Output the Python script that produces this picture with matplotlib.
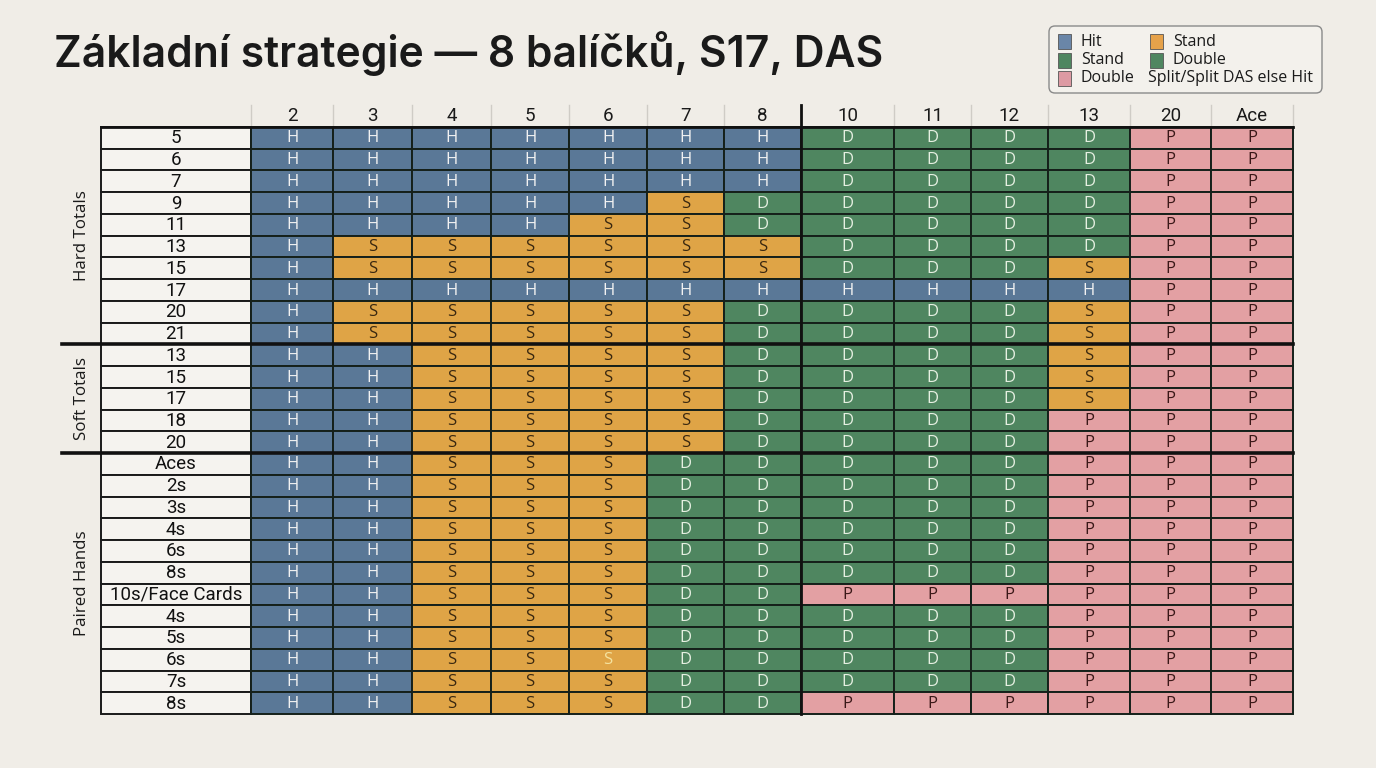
import matplotlib.pyplot as plt
from matplotlib.patches import Rectangle, FancyBboxPatch

# --- data ---------------------------------------------------------------
dealer_cards = ['2', '3', '4', '5', '6', '7', '8', '10', '11', '12', '13', '20', 'Ace']

hard_labels = ['5', '6', '7', '9', '11', '13', '15', '17', '20', '21']
hard_moves = [
    'HHHHHHHDDDDPP',
    'HHHHHHHDDDDPP',
    'HHHHHHHDDDDPP',
    'HHHHHSDDDDDPP',
    'HHHHSSDDDDDPP',
    'HSSSSSSDDDDPP',
    'HSSSSSSDDDSPP',
    'HHHHHHHHHHHPP',
    'HSSSSSDDDDSPP',
    'HSSSSSDDDDSPP',
]

soft_labels = ['13', '15', '17', '18', '20']
soft_moves = [
    'HHSSSSDDDDSPP',
    'HHSSSSDDDDSPP',
    'HHSSSSDDDDSPP',
    'HHSSSSDDDDPPP',
    'HHSSSSDDDDPPP',
]

pair_labels = ['Aces', '2s', '3s', '4s', '6s', '8s', '10s/Face Cards',
               '4s', '5s', '6s', '7s', '8s']
pair_moves = [
    'HHSSSDDDDDPPP',
    'HHSSSDDDDDPPP',
    'HHSSSDDDDDPPP',
    'HHSSSDDDDDPPP',
    'HHSSSDDDDDPPP',
    'HHSSSDDDDDPPP',
    'HHSSSDDPPPPPP',
    'HHSSSDDDDDPPP',
    'HHSSSDDDDDPPP',
    'HHSSSDDDDDPPP',
    'HHSSSDDDDDPPP',
    'HHSSSDDPPPPPP',
]

sections = [('Hard Totals', hard_labels, hard_moves),
            ('Soft Totals', soft_labels, soft_moves),
            ('Paired Hands', pair_labels, pair_moves)]

legend_labels = ['Hit', 'Stand', 'Double', 'Stand', 'Double', 'Split/Split DAS else Hit']
legend_keys = ['H', 'D', 'P', 'S', 'D', None]

# --- style --------------------------------------------------------------
bg = '#f0ede7'
cell_fill = {'H': '#5a7897', 'S': '#dfa446', 'D': '#4f8660', 'P': '#e3a0a3'}
text_col = {'H': '#f2f2f2', 'S': '#3a2810', 'D': '#e6f0e2', 'P': '#3a1818'}
legend_fill = {'H': '#6a86a8', 'S': '#e6a24a', 'D': '#4f8660', 'P': '#dd9aa3'}
odd_text = {(24, 4): '#f5e3a0'}  # one light "S" in the 6s row

col_widths = [82, 79, 79, 78, 78, 77, 77, 93, 77, 77, 82, 81, 82]
grid_left, grid_top, grid_bottom = 251, 127, 714
label_left = 101
n_rows = sum(len(s[1]) for s in sections)
row_h = (grid_bottom - grid_top) / n_rows

col_edges = [grid_left]
for w in col_widths:
    col_edges.append(col_edges[-1] + w)
grid_right = col_edges[-1]

fig = plt.figure(figsize=(13.76, 7.68), dpi=100, facecolor=bg)
ax = fig.add_axes([0, 0, 1, 1])
ax.set_xlim(0, 1376)
ax.set_ylim(768, 0)
ax.axis('off')

ax.text(54, 53, 'Základní strategie — 8 balíčků, S17, DAS', fontsize=30.7,
        fontfamily='Inter', fontweight='semibold', color='#1a1a1a',
        ha='left', va='center')

# header
for j, c in enumerate(dealer_cards):
    xc = (col_edges[j] + col_edges[j + 1]) / 2
    ax.text(xc, 116, c, fontsize=13.5, fontfamily='Roboto', ha='center',
            va='center', color='#1a1a1a')
for x in col_edges:
    ax.plot([x, x], [105, grid_top], color='#cfccc6', lw=1, zorder=1)

# cells
r = 0
sep_rows = []
for name, labels, moves in sections:
    start = r
    for lab, row in zip(labels, moves):
        y0 = grid_top + r * row_h
        ax.add_patch(Rectangle((label_left, y0), grid_left - label_left, row_h,
                               facecolor='#f5f3ef', edgecolor='#1a1a1a', lw=1.4, zorder=2))
        ax.text((label_left + grid_left) / 2, y0 + row_h / 2 + 0.5, lab, fontsize=13.5,
                fontfamily='Roboto', ha='center', va='center', color='#111111', zorder=3)
        for j, m in enumerate(row):
            ax.add_patch(Rectangle((col_edges[j], y0), col_widths[j], row_h,
                                   facecolor=cell_fill[m], edgecolor='#15201a',
                                   lw=1.4, zorder=2))
            ax.text(col_edges[j] + col_widths[j] / 2, y0 + row_h / 2 + 0.5, m,
                    fontsize=12, fontfamily='Open Sans', ha='center', va='center',
                    color=odd_text.get((r, j), text_col[m]), zorder=3)
        r += 1
    mid = grid_top + (start + r) / 2 * row_h
    ax.text(82, mid, name, rotation=90, fontsize=12.2, fontfamily='Open Sans',
            ha='center', va='center', color='#1a1a1a')
    sep_rows.append(r)

for sr in sep_rows[:-1]:
    y = grid_top + sr * row_h
    ax.plot([62, grid_right], [y, y], color='#111111', lw=2.6, zorder=4)
ax.plot([label_left, grid_right], [grid_top, grid_top], color='#111111', lw=2, zorder=4)
ax.plot([col_edges[7], col_edges[7]], [105, grid_bottom], color='#111111', lw=2, zorder=4)

# legend
ax.add_patch(FancyBboxPatch((1049, 26), 273, 67, boxstyle='round,pad=0,rounding_size=6',
                            facecolor='#f3f1ec', edgecolor='#8a8a8a', lw=1, zorder=5))
for k, (lab, key) in enumerate(zip(legend_labels, legend_keys)):
    cx = 1058 if k < 3 else 1150
    cy = 41 + (k % 3) * 18.5
    if key is None:
        tx = 1148
    else:
        ax.add_patch(Rectangle((cx, cy - 7), 13, 15, facecolor=legend_fill[key],
                               edgecolor='#555555', lw=0.6, zorder=6))
        tx = cx + 23
    ax.text(tx, cy + 0.5, lab, fontsize=11.5, fontfamily='Open Sans', ha='left',
            va='center', color='#1a1a1a', zorder=6)

fig.savefig('out.png', dpi=100, facecolor=bg)
